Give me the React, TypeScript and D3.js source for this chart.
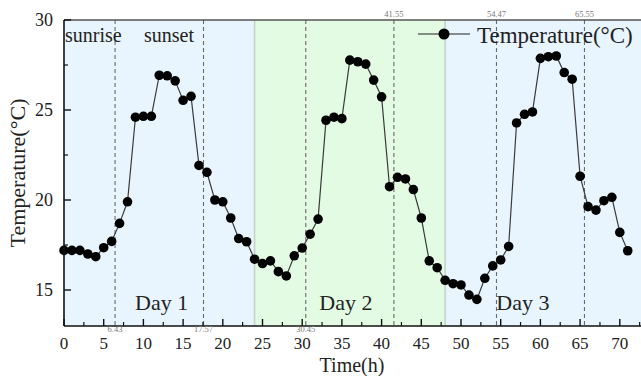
import React from "react";
import * as d3 from "d3";

// Hourly temperature readings over three days
const hours: number[] = Array.from({ length: 72 }, (_, i) => i);
const temperature: number[] = [
  // Day 1
  17.2, 17.2, 17.2, 17.0, 16.85, 17.35, 17.7, 18.7, 19.9, 24.6, 24.65, 24.65,
  26.93, 26.9, 26.62, 25.54, 25.76, 21.92, 21.54, 20.0, 19.9, 19.0, 17.86, 17.68,
  // Day 2
  16.71, 16.47, 16.62, 16.02, 15.78, 16.9, 17.33, 18.1, 18.94, 24.43, 24.6, 24.52,
  27.77, 27.68, 27.55, 26.66, 25.73, 20.74, 21.26, 21.17, 20.58, 19.0, 16.62, 16.24,
  // Day 3
  15.54, 15.35, 15.28, 14.72, 14.48, 15.65, 16.34, 16.67, 17.42, 24.28, 24.76, 24.89,
  27.87, 27.96, 28.0, 27.08, 26.71, 21.32, 19.63, 19.44, 19.96, 20.15, 18.2, 17.18,
];

// Sunrise / sunset markers (hours)
const sunMarksBottom: number[] = [6.43, 17.57, 30.45];
const sunMarksTop: number[] = [41.55, 54.47, 65.55];

// Day bands
const dayBands: { label: string; start: number; end: number; fill: string }[] = [
  { label: "Day 1", start: 0, end: 24, fill: "#e8f4fe" },
  { label: "Day 2", start: 24, end: 48, fill: "#e3fbe3" },
  { label: "Day 3", start: 48, end: 80, fill: "#e8f4fe" },
];
const dayLabelX: number[] = [12.3, 35.5, 57.8];

const xMajorTicks: number[] = [0, 5, 10, 15, 20, 25, 30, 35, 40, 45, 50, 55, 60, 65, 70];
const xMinorTicks: number[] = d3.range(2.5, 73, 5);
const yMajorTicks: number[] = [15, 20, 25, 30];
const yMinorTicks: number[] = [17.5, 22.5, 27.5];

const W = 641;
const H = 376;
const left = 64;
const top = 20;
const bottom = 326;
const right = 641;

const FONT = "'Liberation Serif', 'Times New Roman', serif";

export default function App() {
  const x = d3.scaleLinear().domain([0, 72.67]).range([left, right]);
  const y = d3.scaleLinear().domain([13, 30]).range([bottom, top]);

  const line = d3
    .line<number>()
    .x((_, i) => x(hours[i]))
    .y((d) => y(d));

  const fmt = (v: number) => v.toFixed(2);

  return (
    <svg
      width={W}
      height={H}
      style={{ position: "absolute", left: 0, top: 0, background: "#fff" }}
      fontFamily={FONT}
    >
      <defs>
        <clipPath id="plot-clip">
          <rect x={left} y={top} width={right - left} height={bottom - top} />
        </clipPath>
      </defs>

      {/* day bands */}
      <g clipPath="url(#plot-clip)">
        {dayBands.map((b) => (
          <rect
            key={b.label}
            x={x(b.start)}
            y={top}
            width={x(b.end) - x(b.start)}
            height={bottom - top}
            fill={b.fill}
          />
        ))}
        {[24, 48].map((h) => (
          <line key={h} x1={x(h)} x2={x(h)} y1={top} y2={bottom} stroke="#c4d0c8" strokeWidth={1.5} />
        ))}
        {[...sunMarksBottom, ...sunMarksTop].map((h) => (
          <line
            key={h}
            x1={x(h)}
            x2={x(h)}
            y1={top}
            y2={bottom}
            stroke="#6a6a6a"
            strokeWidth={1.1}
            strokeDasharray="4,3"
          />
        ))}
      </g>

      {/* day labels */}
      {dayBands.map((b, i) => (
        <text key={b.label} x={x(dayLabelX[i])} y={310} fontSize={22} textAnchor="middle" fill="#222">
          {b.label}
        </text>
      ))}

      <text x={65} y={42} fontSize={20} fill="#222">sunrise</text>
      <text x={144} y={42} fontSize={20} fill="#222">sunset</text>

      {/* temperature series */}
      <path d={line(temperature) ?? ""} fill="none" stroke="#3a3a3a" strokeWidth={1.2} />
      {temperature.map((t, i) => (
        <circle key={i} cx={x(hours[i])} cy={y(t)} r={4.8} fill="#000" />
      ))}

      {/* frame */}
      <line x1={left} x2={right} y1={top} y2={top} stroke="#555" strokeWidth={1.5} />
      <line x1={left} x2={right} y1={bottom} y2={bottom} stroke="#111" strokeWidth={1.6} />
      <line x1={left} x2={left} y1={top} y2={bottom} stroke="#111" strokeWidth={1.6} />

      {/* x ticks */}
      {xMajorTicks.map((t) => (
        <g key={t}>
          <line x1={x(t)} x2={x(t)} y1={bottom} y2={bottom - 7} stroke="#111" strokeWidth={1.4} />
          <text x={x(t)} y={349} fontSize={17} textAnchor="middle" fill="#222">{t}</text>
        </g>
      ))}
      {xMinorTicks.map((t) => (
        <line key={t} x1={x(t)} x2={x(t)} y1={bottom} y2={bottom - 4} stroke="#111" strokeWidth={1.2} />
      ))}

      {/* y ticks */}
      {yMajorTicks.map((t) => (
        <g key={t}>
          <line x1={left} x2={left + 7} y1={y(t)} y2={y(t)} stroke="#111" strokeWidth={1.4} />
          <text x={53} y={y(t) + 6} fontSize={18} textAnchor="end" fill="#222">{t}</text>
        </g>
      ))}
      {yMinorTicks.map((t) => (
        <line key={t} x1={left} x2={left + 4} y1={y(t)} y2={y(t)} stroke="#111" strokeWidth={1.2} />
      ))}

      {/* sunrise / sunset hour labels */}
      {sunMarksBottom.map((h) => (
        <text key={h} x={x(h)} y={331.5} fontSize={8.5} textAnchor="middle" fill="#777">{fmt(h)}</text>
      ))}
      {sunMarksTop.map((h) => (
        <text key={h} x={x(h)} y={17} fontSize={8.5} textAnchor="middle" fill="#777">{fmt(h)}</text>
      ))}

      {/* axis titles */}
      <text x={352} y={371.6} fontSize={20} textAnchor="middle" fill="#222">Time(h)</text>
      <text
        transform={`translate(25, ${y(21.5)}) rotate(-90)`}
        fontSize={22}
        textAnchor="middle"
        fill="#222"
      >
        Temperature(°C)
      </text>

      {/* legend */}
      <line x1={418} x2={470} y1={34} y2={34} stroke="#222" strokeWidth={1.2} />
      <circle cx={444} cy={34} r={5.5} fill="#000" />
      <text x={477} y={43} fontSize={23} fill="#222">Temperature(°C)</text>
    </svg>
  );
}
